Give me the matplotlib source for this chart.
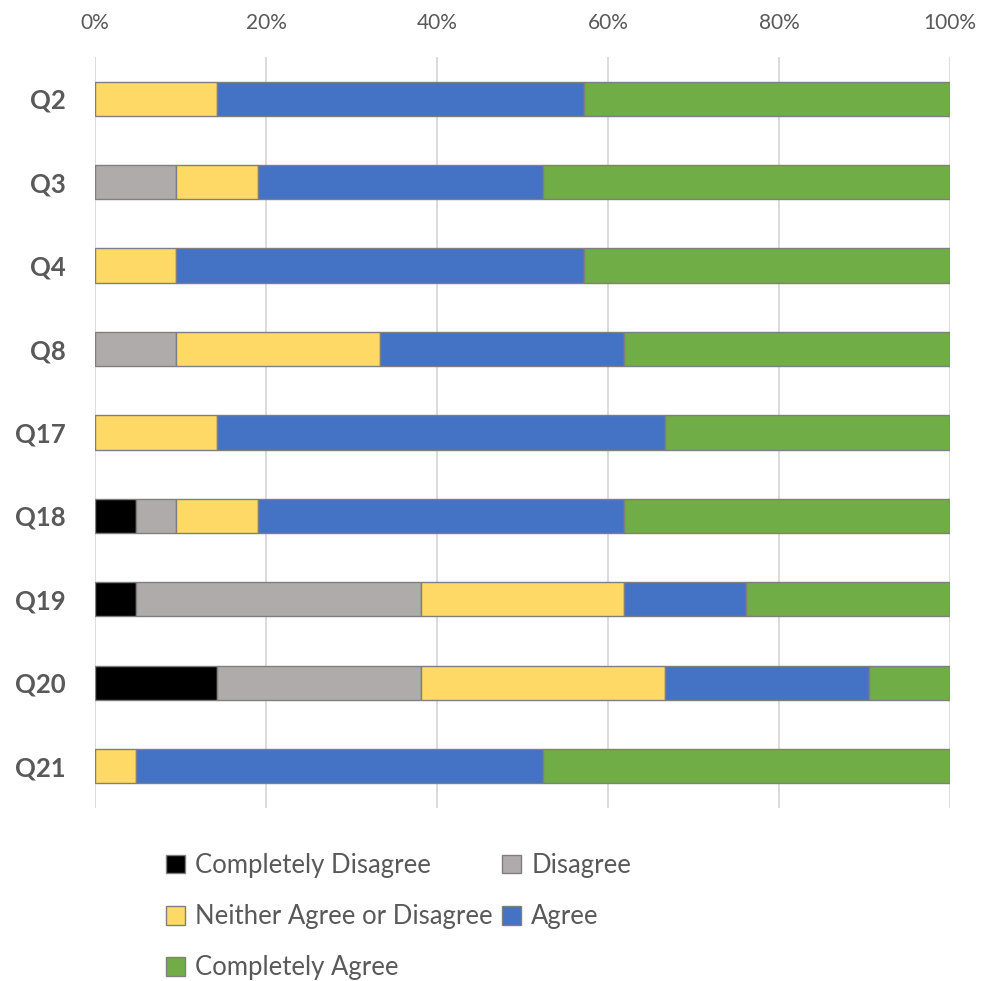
import matplotlib
matplotlib.use("Agg")
import matplotlib.pyplot as plt
import numpy as np

plt.rcParams['font.family'] = ['Lato', 'DejaVu Sans']

questions = ["Q2", "Q3", "Q4", "Q8", "Q17", "Q18", "Q19", "Q20", "Q21"]
series_names = ["Completely Disagree", "Disagree", "Neither Agree or Disagree", "Agree", "Completely Agree"]
colors = ["#000000", "#AFABAB", "#FFD966", "#4472C4", "#70AD47"]

completely_disagree = [0, 0, 0, 0, 0, 4.76, 4.76, 14.29, 0]
disagree = [0, 9.52, 0, 9.52, 0, 4.76, 33.33, 23.81, 0]
neither = [14.29, 9.52, 9.52, 23.81, 14.29, 9.52, 23.81, 28.57, 4.76]
agree = [42.86, 33.33, 47.62, 28.57, 52.38, 42.86, 14.29, 23.81, 47.62]
completely_agree = [42.86, 47.62, 42.86, 38.10, 33.33, 38.10, 23.81, 9.52, 47.62]

series = [completely_disagree, disagree, neither, agree, completely_agree]

fig = plt.figure(figsize=(9.83, 9.81), dpi=100)
ax = fig.add_axes([0.0966, 0.1764, 0.8698, 0.7655])

y = np.arange(len(questions))
left = np.zeros(len(questions))
handles = []
for name, vals, c in zip(series_names, series, colors):
    vals = np.array(vals)
    b = ax.barh(y, vals, left=left, height=0.41, color=c, edgecolor="#7F7F7F",
                linewidth=1.0, label=name, zorder=3)
    handles.append(b)
    left += vals

ax.set_xlim(0, 100)
ax.set_ylim(len(questions) - 0.5, -0.5)
ax.set_yticks(y)
ax.set_yticklabels(questions, fontsize=18.5, fontweight='bold', color="#595959")
ax.set_xticks(np.arange(0, 101, 20))
ax.set_xticklabels([f"{v}%" for v in range(0, 101, 20)], fontsize=15, color="#595959")
ax.xaxis.tick_top()
ax.tick_params(axis='x', length=0, pad=17)
ax.tick_params(axis='y', length=0, pad=21)
ax.grid(axis='x', color="#D9D9D9", linewidth=1.3, zorder=0)
for s in ax.spines.values():
    s.set_visible(False)

# row-wise legend order (matplotlib fills column by column)
order = [0, 2, 4, 1, 3]
leg = fig.legend([handles[i] for i in order], [series_names[i] for i in order],
                 loc='upper left', bbox_to_anchor=(0.158, 0.141), ncol=2, frameon=False,
                 fontsize=18.5, handlelength=0.75, handleheight=0.75,
                 handletextpad=0.4, columnspacing=0.35, labelspacing=1.02,
                 borderaxespad=0)
plt.setp(leg.get_texts(), color="#595959")

fig.savefig("out.png", dpi=100)
